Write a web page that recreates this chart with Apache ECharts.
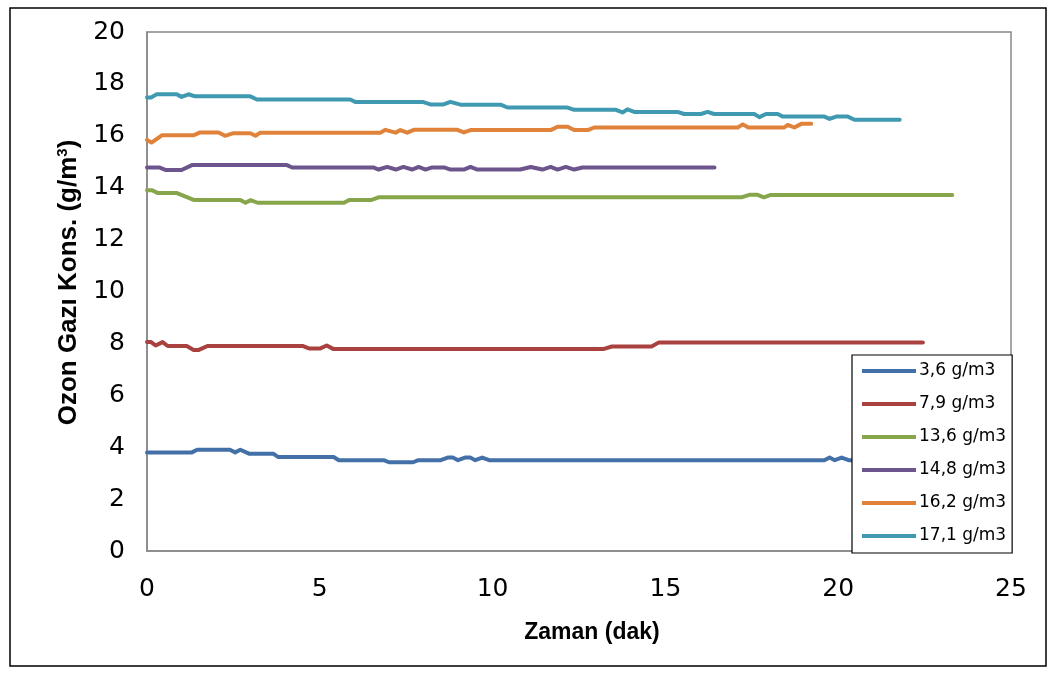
<!DOCTYPE html>
<html>
<head>
<meta charset="utf-8">
<script src="https://cdn.jsdelivr.net/npm/echarts@6/dist/echarts.min.js"></script>
<style>html,body{margin:0;padding:0;background:#fff;}#c{width:1054px;height:678px;}</style>
</head>
<body>
<div id="c"></div>
<script>
// Tick values
const xTicks = [0, 5, 10, 15, 20, 25];
const yTicks = [0, 2, 4, 6, 8, 10, 12, 14, 16, 18, 20];
const seriesNames = ['3,6 g/m3', '7,9 g/m3', '13,6 g/m3', '14,8 g/m3', '16,2 g/m3', '17,1 g/m3'];

// 3,6 g/m3
const t36 = [0, 1.3, 1.45, 2.4, 2.55, 2.7, 2.95, 3.65, 3.8, 5.4, 5.55, 6.85, 7.0, 7.7, 7.85, 8.5, 8.7, 8.85, 9.0, 9.2, 9.35, 9.5, 9.7, 9.9, 19.6, 19.75, 19.9, 20.1, 20.3, 21.0];
const c36 = [3.8, 3.8, 3.9, 3.9, 3.8, 3.9, 3.75, 3.75, 3.62, 3.62, 3.5, 3.5, 3.42, 3.42, 3.5, 3.5, 3.6, 3.6, 3.5, 3.6, 3.6, 3.5, 3.6, 3.5, 3.5, 3.6, 3.5, 3.6, 3.5, 3.5];
// 7,9 g/m3
const t79 = [0, 0.12, 0.25, 0.45, 0.6, 1.15, 1.35, 1.5, 1.75, 4.5, 4.7, 5.0, 5.2, 5.4, 13.2, 13.45, 14.6, 14.8, 22.45];
const c79 = [8.05, 8.05, 7.92, 8.05, 7.9, 7.9, 7.75, 7.75, 7.9, 7.9, 7.8, 7.8, 7.92, 7.78, 7.78, 7.88, 7.88, 8.03, 8.03];
// 13,6 g/m3
const t136 = [0, 0.15, 0.3, 0.85, 1.35, 2.7, 2.85, 3.0, 3.2, 5.7, 5.85, 6.5, 6.7, 17.2, 17.45, 17.65, 17.85, 18.05, 23.3];
const c136 = [13.9, 13.9, 13.8, 13.8, 13.53, 13.53, 13.42, 13.52, 13.42, 13.42, 13.53, 13.53, 13.63, 13.63, 13.73, 13.73, 13.63, 13.72, 13.72];
// 14,8 g/m3
const t148 = [0, 0.35, 0.55, 1.0, 1.3, 4.05, 4.2, 6.55, 6.7, 6.95, 7.2, 7.42, 7.67, 7.86, 8.06, 8.25, 8.6, 8.78, 9.17, 9.36, 9.56, 10.8, 11.1, 11.44, 11.68, 11.88, 12.12, 12.36, 12.6, 16.42];
const c148 = [14.78, 14.78, 14.68, 14.68, 14.87, 14.87, 14.78, 14.78, 14.7, 14.8, 14.7, 14.8, 14.7, 14.8, 14.7, 14.78, 14.78, 14.7, 14.7, 14.8, 14.7, 14.7, 14.8, 14.7, 14.8, 14.7, 14.8, 14.7, 14.78, 14.78];
// 16,2 g/m3
const t162 = [0, 0.13, 0.43, 1.34, 1.54, 2.07, 2.26, 2.5, 2.99, 3.14, 3.28, 6.75, 6.9, 7.19, 7.33, 7.53, 7.72, 8.98, 9.17, 9.36, 11.68, 11.88, 12.17, 12.36, 12.75, 12.94, 17.09, 17.24, 17.4, 18.44, 18.54, 18.73, 18.93, 19.22];
const c162 = [15.84, 15.74, 16.02, 16.02, 16.13, 16.13, 16.0, 16.1, 16.1, 16.0, 16.12, 16.12, 16.23, 16.12, 16.22, 16.12, 16.23, 16.23, 16.13, 16.22, 16.22, 16.35, 16.35, 16.22, 16.22, 16.32, 16.32, 16.44, 16.32, 16.32, 16.42, 16.32, 16.46, 16.46];
// 17,1 g/m3
const t171 = [0, 0.12, 0.28, 0.86, 1.0, 1.2, 1.39, 2.99, 3.18, 5.88, 6.03, 8.0, 8.2, 8.58, 8.78, 9.07, 10.23, 10.43, 12.17, 12.36, 13.57, 13.76, 13.9, 14.1, 15.35, 15.54, 16.03, 16.22, 16.41, 17.57, 17.72, 17.91, 18.25, 18.4, 19.6, 19.75, 19.94, 20.28, 20.47, 21.78];
const c171 = [17.48, 17.48, 17.6, 17.6, 17.5, 17.6, 17.52, 17.52, 17.4, 17.4, 17.3, 17.3, 17.21, 17.21, 17.31, 17.2, 17.2, 17.09, 17.09, 17.0, 17.0, 16.9, 17.02, 16.92, 16.92, 16.84, 16.84, 16.92, 16.84, 16.84, 16.72, 16.84, 16.84, 16.74, 16.74, 16.65, 16.74, 16.74, 16.62, 16.62];

const colors = ['#4470a8', '#a9413f', '#87a64b', '#6c548d', '#e0823a', '#3f9ab1'];
const times = [t36, t79, t136, t148, t162, t171];
const concs = [c36, c79, c136, c148, c162, c171];

const chart = echarts.init(document.getElementById('c'), null, {renderer: 'canvas'});
const series = seriesNames.map((n, i) => ({
  name: n,
  type: 'line',
  data: times[i].map((t, k) => [t, concs[i][k]]),
  showSymbol: false,
  symbol: 'none',
  smooth: false,
  lineStyle: {width: 4, color: colors[i], cap: 'round', join: 'round'},
  itemStyle: {color: colors[i]},
  animation: false
}));

chart.setOption({
  animation: false,
  backgroundColor: '#fff',
  graphic: [{
    type: 'rect', shape: {x: 10, y: 8, width: 1036, height: 658},
    style: {fill: 'none', stroke: '#000', lineWidth: 1.5}, z: -1
  }],
  grid: {left: 147, top: 32, right: 43, bottom: 127, show: true, borderColor: '#888', borderWidth: 1.5, backgroundColor: 'transparent'},
  legend: {
    orient: 'vertical', left: 852, top: 355,
    data: seriesNames.map((n, i) => ({name: n, icon: 'rect', itemStyle: {color: colors[i]}})),
    itemWidth: 54, itemHeight: 4, itemGap: 15,
    padding: [7, 6, 8, 10],
    backgroundColor: '#fff', borderColor: '#000', borderWidth: 1.2, borderRadius: 0,
    textStyle: {fontFamily: 'DejaVu Sans', fontSize: 17, color: '#000', lineHeight: 18, padding: [0, 0, 0, -2]}
  },
  xAxis: {
    type: 'value', min: 0, max: 25, interval: 5,
    name: 'Zaman (dak)', nameLocation: 'middle', nameGap: 70,
    nameTextStyle: {fontFamily: 'Liberation Sans', fontWeight: 'bold', fontSize: 23, color: '#000', padding: [0, 0, 0, 26]},
    axisLine: {show: true, lineStyle: {color: '#888', width: 1.5}},
    axisTick: {show: false},
    splitLine: {show: false},
    axisLabel: {fontFamily: 'DejaVu Sans', fontSize: 25, color: '#000', margin: 26,
      formatter: v => xTicks.includes(v) ? String(v) : ''}
  },
  yAxis: {
    type: 'value', min: 0, max: 20, interval: 2,
    name: 'Ozon Gazı Kons. (g/m{sup|3})', nameLocation: 'middle', nameGap: 58, nameRotate: 90,
    nameTextStyle: {fontFamily: 'Liberation Sans', fontWeight: 'bold', fontSize: 26, color: '#000', padding: [0, 0, 0, 18],
      rich: {sup: {fontFamily: 'Liberation Sans', fontWeight: 'bold', fontSize: 15, color: '#000', verticalAlign: 'top', padding: [0, 0, 12, 0]}}},
    axisLine: {show: true, lineStyle: {color: '#888', width: 1.5}},
    axisTick: {show: false},
    splitLine: {show: false},
    axisLabel: {fontFamily: 'DejaVu Sans', fontSize: 25, color: '#000', margin: 22,
      formatter: v => yTicks.includes(v) ? String(v) : ''}
  },
  series: series
});
</script>
</body>
</html>
